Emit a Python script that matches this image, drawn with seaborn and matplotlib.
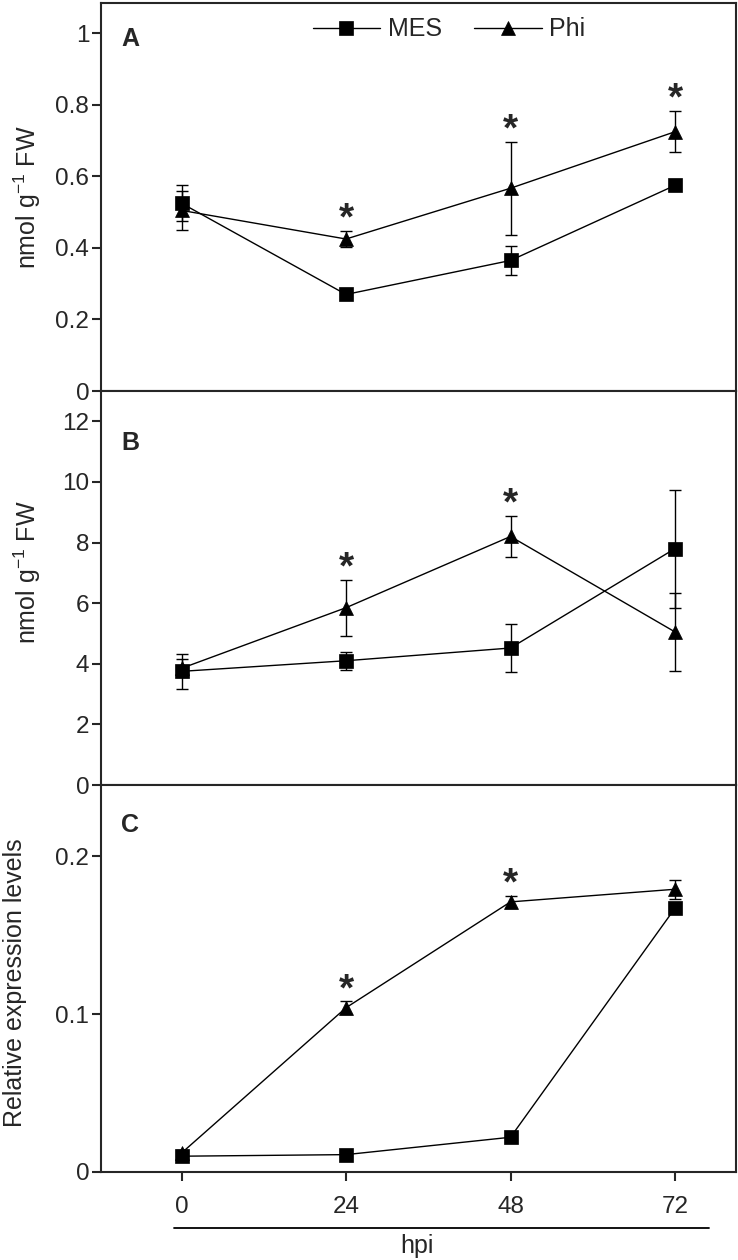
import numpy as np
import pandas as pd
import matplotlib
matplotlib.use("Agg")
import matplotlib.pyplot as plt
import seaborn as sns
from matplotlib.lines import Line2D

# time points (hours post inoculation)
hpi = [0, 24, 48, 72]
treatments = ["MES", "Phi"]

# panel A
a_mes = [0.525, 0.27, 0.365, 0.575]
a_mes_err = [0.05, 0.01, 0.04, 0.01]
a_phi = [0.505, 0.425, 0.567, 0.725]
a_phi_err = [0.055, 0.022, 0.13, 0.057]
a_sig = [24, 48, 72]

# panel B
b_mes = [3.75, 4.1, 4.52, 7.8]
b_mes_err = [0.57, 0.3, 0.8, 1.95]
b_phi = [3.85, 5.85, 8.2, 5.05]
b_phi_err = [0.3, 0.92, 0.68, 1.3]
b_sig = [24, 48]

# panel C
c_mes = [0.010, 0.011, 0.022, 0.167]
c_mes_err = [0.001, 0.001, 0.002, 0.002]
c_phi = [0.012, 0.104, 0.171, 0.179]
c_phi_err = [0.002, 0.004, 0.004, 0.006]
c_sig = [24, 48]

a_yticks = [0, 0.2, 0.4, 0.6, 0.8, 1.0]
a_ylabels = ["0", "0.2", "0.4", "0.6", "0.8", "1"]
b_yticks = [0, 2, 4, 6, 8, 10, 12]
b_ylabels = ["0", "2", "4", "6", "8", "10", "12"]
c_yticks = [0, 0.1, 0.2]
c_ylabels = ["0", "0.1", "0.2"]

sns.set_style("ticks")
plt.rcParams["font.family"] = ["Liberation Sans", "DejaVu Sans"]
plt.rcParams["mathtext.fontset"] = "custom"
plt.rcParams["mathtext.rm"] = "Liberation Sans"
plt.rcParams["mathtext.it"] = "Liberation Sans:italic"
plt.rcParams["mathtext.bf"] = "Liberation Sans:bold"


def make_frame(mes, mes_err, phi, phi_err):
    rows = []
    for h, v, e in zip(hpi, mes, mes_err):
        rows.append({"hpi": h, "treatment": "MES", "value": v, "err": e})
    for h, v, e in zip(hpi, phi, phi_err):
        rows.append({"hpi": h, "treatment": "Phi", "value": v, "err": e})
    return pd.DataFrame(rows)


fig = plt.figure(figsize=(7.38, 12.6), dpi=100)
W, H = 738, 1260
left, right = 101, 736
panels_px = [(3, 391), (391, 785), (785, 1172)]
axes = []
for top, bot in panels_px:
    axes.append(fig.add_axes([left / W, 1 - bot / H, (right - left) / W, (bot - top) / H]))

panel_data = [
    (make_frame(a_mes, a_mes_err, a_phi, a_phi_err), a_sig, (0, 1.085), a_yticks, a_ylabels, "A", 0.938),
    (make_frame(b_mes, b_mes_err, b_phi, b_phi_err), b_sig, (0, 13), b_yticks, b_ylabels, "B", 0.898),
    (make_frame(c_mes, c_mes_err, c_phi, c_phi_err), c_sig, (0, 0.245), c_yticks, c_ylabels, "C", 0.928),
]

markers = {"MES": "s", "Phi": "^"}
for i, (ax, (df, sig, ylim, yt, yl, letter, ly)) in enumerate(zip(axes, panel_data)):
    for t in treatments:
        sub = df[df["treatment"] == t]
        ax.errorbar(sub["hpi"], sub["value"], yerr=sub["err"], fmt="none",
                    ecolor="black", elinewidth=1.0, capsize=4, capthick=1.0, zorder=2)
    sns.lineplot(data=df, x="hpi", y="value", style="treatment", markers=markers,
                 dashes=False, color="black", errorbar=None, ax=ax,
                 markersize=10, markeredgecolor="black", markeredgewidth=0.5,
                 linewidth=1.0, legend=(i == 0), zorder=3)

    # significance asterisks above the upper error bar
    phi = df[df["treatment"] == "Phi"].set_index("hpi")
    for h in sig:
        y_top = phi.loc[h, "value"] + phi.loc[h, "err"]
        ax.annotate("*", xy=(h, y_top), xytext=(0, 1), textcoords="offset points",
                    ha="center", va="baseline", fontsize=28, fontweight="bold")

    ax.set_xlim(-11.75, 80.9)
    ax.set_ylim(*ylim)
    ax.set_yticks(yt)
    ax.set_yticklabels(yl)
    ax.set_xticks(hpi)
    ax.tick_params(direction="out", length=6.5, width=1.5, labelsize=17.5, pad=2)
    ax.tick_params(axis="x", pad=11)
    if i < 2:
        ax.set_xticklabels([])
    else:
        ax.set_xticklabels([str(h) for h in hpi])
    ax.set_xlabel("")
    for s in ax.spines.values():
        s.set_linewidth(1.5)
        s.set_visible(True)
    ax.text(0.032, ly, letter, transform=ax.transAxes, ha="left", va="top",
            fontsize=18, fontweight="bold")

axes[0].set_ylabel(r"nmol g$^{-1}$ FW", fontsize=18)
axes[1].set_ylabel(r"nmol g$^{-1}$ FW", fontsize=18)
axes[2].set_ylabel("Relative expression levels", fontsize=18)
axes[0].yaxis.set_label_coords(-0.091, 0.5)
axes[1].yaxis.set_label_coords(-0.091, 0.54)
axes[2].yaxis.set_label_coords(-0.117, 0.49)

# legend
h, l = axes[0].get_legend_handles_labels()
keep = [(hh, ll) for hh, ll in zip(h, l) if ll in treatments]
axes[0].legend([k[0] for k in keep], [k[1] for k in keep], loc="center",
               bbox_to_anchor=(0.548, 0.932), ncol=2, frameon=False, fontsize=18,
               handlelength=2.7, handletextpad=0.3, columnspacing=1.3)

# hpi axis bar and label
fig.add_artist(Line2D([174 / W, 709 / W], [1 - 1228 / H] * 2, transform=fig.transFigure,
                      color="black", linewidth=1.3))
fig.text(417 / W, 1 - 1246 / H, "hpi", ha="center", va="center", fontsize=18)

fig.savefig("out.png", dpi=100)
